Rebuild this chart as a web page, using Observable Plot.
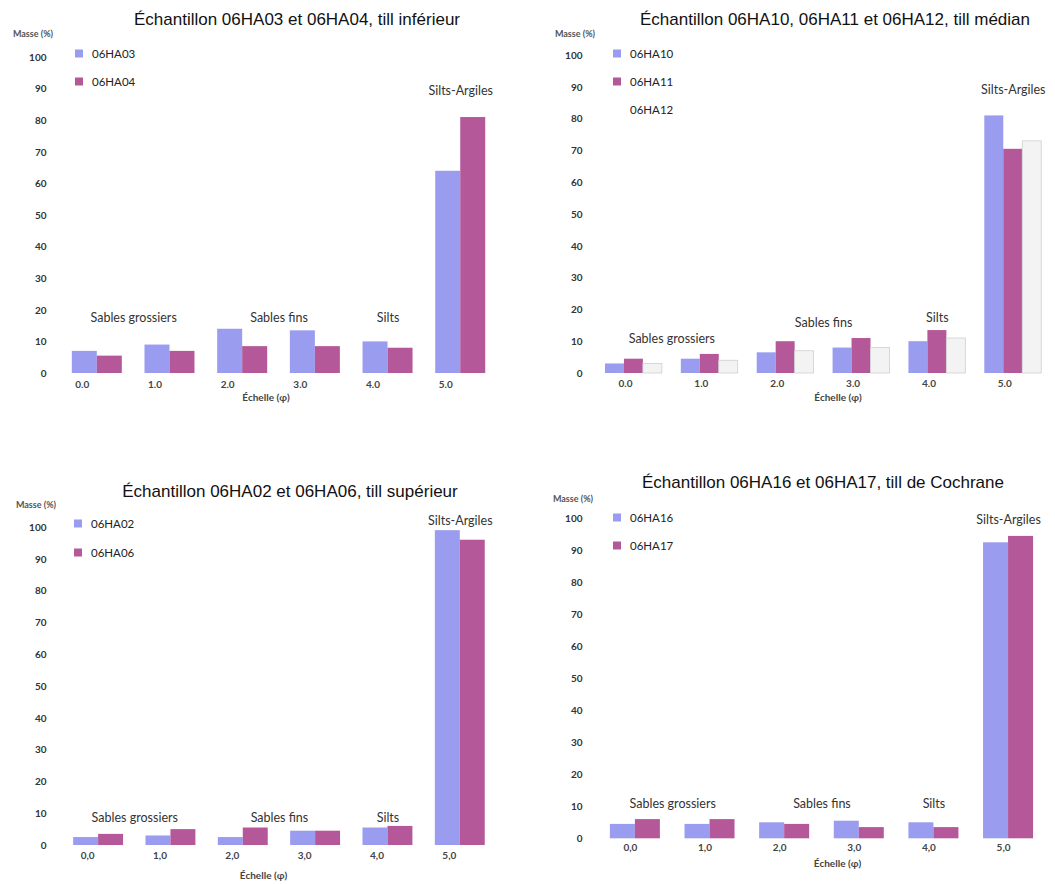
<!DOCTYPE html>
<html>
<head>
<meta charset="utf-8">
<script src="https://cdn.jsdelivr.net/npm/d3@7"></script>
<script src="https://cdn.jsdelivr.net/npm/@observablehq/plot@0.6"></script>
<style>
  body { margin: 0; background: #fff; }
  #page { position: relative; width: 1055px; height: 884px; overflow: hidden; background: #fff; }
  .chart { position: absolute; }
  .chart svg { overflow: visible; }
  .title { position: absolute; transform: translate(-50%, -50%); white-space: nowrap;
           font-family: "Liberation Sans", Arial, sans-serif; font-size: 17px; color: #111; z-index: 2; }
  .masse { position: absolute; transform: translate(-50%, -50%); white-space: nowrap;
           font-family: Lato, sans-serif; font-size: 9px; font-weight: bold; color: #555; z-index: 2; }
  .legend-item { position: absolute; display: flex; align-items: center; transform: translateY(-50%);
                 font-family: Lato, sans-serif; font-size: 11.5px; color: #222; z-index: 2; white-space: nowrap; }
  .legend-item .sw { width: 8px; height: 8px; margin-right: 9px; }
</style>
</head>
<body>
<div id="page"></div>
<script>
// Grain-size classes on the phi scale and their tick labels
const phiClasses = [0, 1, 2, 3, 4, 5];
const ticksPoint = ["0.0", "1.0", "2.0", "3.0", "4.0", "5.0"];
const ticksComma = ["0,0", "1,0", "2,0", "3,0", "4,0", "5,0"];
const massTicks = [0, 10, 20, 30, 40, 50, 60, 70, 80, 90, 100];

// Named size fractions and the phi classes they cover
const fractionNames = ["Sables grossiers", "Sables fins", "Silts", "Silts-Argiles"];
const fractionFrom = [0, 2, 4, 5];
const fractionTo = [1, 3, 4, 5];

const axisLabel = "Échelle (φ)";
const massLabel = "Masse (%)";

// Till inférieur
const titleInf = "Échantillon 06HA03 et 06HA04, till inférieur";
const samplesInf = ["06HA03", "06HA04"];
const masse06HA03 = [7, 9, 14, 13.5, 10, 64];
const masse06HA04 = [5.5, 7, 8.5, 8.5, 8, 81];

// Till médian
const titleMed = "Échantillon 06HA10, 06HA11 et 06HA12, till médian";
const samplesMed = ["06HA10", "06HA11", "06HA12"];
const masse06HA10 = [3, 4.5, 6.5, 8, 10, 81];
const masse06HA11 = [4.5, 6, 10, 11, 13.5, 70.5];
const masse06HA12 = [3, 4, 7, 8, 11, 73];

// Till supérieur
const titleSup = "Échantillon 06HA02 et 06HA06, till supérieur";
const samplesSup = ["06HA02", "06HA06"];
const masse06HA02 = [2.5, 3, 2.5, 4.5, 5.5, 99];
const masse06HA06 = [3.5, 5, 5.5, 4.5, 6, 96];

// Till de Cochrane
const titleCoc = "Échantillon 06HA16 et 06HA17, till de Cochrane";
const samplesCoc = ["06HA16", "06HA17"];
const masse06HA16 = [4.5, 4.5, 5, 5.5, 5, 92.5];
const masse06HA17 = [6, 6, 4.5, 3.5, 3.5, 94.5];

// Series styling (first, second, third sample of a panel)
const seriesFill = ["#9a9cf0", "#b4589a", "#f3f3f3"];
const seriesStroke = [null, null, "#cfcfcf"];
const swatchFill = ["#9a9cf0", "#b4589a", "#ffffff"];

const panels = [
  {
    title: titleInf, samples: samplesInf, values: [masse06HA03, masse06HA04], ticks: ticksPoint,
    svg: {left: 0, top: 30, width: 530, height: 385, mt: 27, mb: 42, ml: 50, mr: 25,
          xDomain: [-0.3, 5.96], bar: 0.344, tickDx: 10, tickDy: 14, echDx: -12, echDy: 27,
          labelY: [17.5, 17.5, 17.5, 89.5]},
    titlePos: [297, 20], massePos: [33, 33], legend: {x: 75, textX: 92, ys: [53, 81]}
  },
  {
    title: titleMed, samples: samplesMed, values: [masse06HA10, masse06HA11, masse06HA12], ticks: ticksPoint,
    svg: {left: 530, top: 30, width: 525, height: 385, mt: 25, mb: 42, ml: 56, mr: 10,
          xDomain: [-0.25, 5.8], bar: 0.25, tickDx: 20, tickDy: 13.5, echDx: 22, echDy: 27,
          labelY: [11, 16, 17.4, 89]},
    titlePos: [835, 20], massePos: [575, 33], legend: {x: 613, textX: 630, ys: [53, 81, 109]}
  },
  {
    title: titleSup, samples: samplesSup, values: [masse06HA02, masse06HA06], ticks: ticksComma,
    svg: {left: 0, top: 500, width: 530, height: 384, mt: 27, mb: 39, ml: 50, mr: 25,
          xDomain: [-0.32, 5.97], bar: 0.345, tickDx: 14, tickDy: 13.3, echDx: -14.5, echDy: 33,
          labelY: [8.8, 8.8, 8.8, 102]},
    titlePos: [290, 492], massePos: [36, 504], legend: {x: 74, textX: 92, ys: [523, 552]}
  },
  {
    title: titleCoc, samples: samplesCoc, values: [masse06HA16, masse06HA17], ticks: ticksComma,
    svg: {left: 530, top: 490, width: 525, height: 394, mt: 28.3, mb: 45.7, ml: 56, mr: 10,
          xDomain: [-0.32, 5.83], bar: 0.335, tickDx: 20, tickDy: 11.7, echDx: 21.5, echDy: 28.4,
          labelY: [11, 11, 11, 99.5]},
    titlePos: [823, 483], massePos: [573, 498], legend: {x: 613, textX: 630, ys: [517, 545]}
  }
];

const page = document.getElementById("page");

function addDiv(cls, text, x, y) {
  const el = document.createElement("div");
  el.className = cls;
  el.textContent = text;
  el.style.left = x + "px";
  el.style.top = y + "px";
  page.appendChild(el);
  return el;
}

function drawPanel(p) {
  const L = p.svg;
  const n = p.samples.length;

  // One row per sample and phi class
  const rows = p.samples.map((sample, i) =>
    p.values[i].map((value, j) => ({sample, index: i, phi: phiClasses[j], value}))
  );

  // Fraction labels sit above the middle of the grouped bars they cover
  const fractionLabels = fractionNames.map((name, k) => ({
    name,
    x: (fractionFrom[k] + fractionTo[k]) / 2 + n * L.bar / 2,
    y: L.labelY[k]
  }));

  const barMarks = rows.map((data, i) =>
    Plot.rect(data, {
      x1: d => d.phi + d.index * L.bar,
      x2: d => d.phi + (d.index + 1) * L.bar,
      y1: 0,
      y2: "value",
      fill: seriesFill[i],
      stroke: seriesStroke[i] || undefined,
      strokeWidth: 0.8
    })
  );

  const chart = Plot.plot({
    width: L.width,
    height: L.height,
    marginTop: L.mt,
    marginBottom: L.mb,
    marginLeft: L.ml,
    marginRight: L.mr,
    style: {background: "transparent", fontFamily: "Lato, sans-serif", fontSize: "10px",
            fontWeight: "bold", color: "#333"},
    x: {domain: L.xDomain, axis: null},
    y: {domain: [0, 100], ticks: massTicks, tickSize: 0, tickPadding: 4, label: null,
        tickFormat: d => String(d)},
    marks: [
      ...barMarks,
      Plot.text(phiClasses, {
        x: d => d, text: (d, i) => p.ticks[i], frameAnchor: "bottom",
        dx: L.tickDx, dy: L.tickDy, fontSize: 10, fontWeight: "bold", fill: "#444"
      }),
      Plot.text([axisLabel], {
        frameAnchor: "bottom", dx: L.echDx, dy: L.echDy,
        fontSize: 10, fontWeight: "bold", fill: "#444"
      }),
      Plot.text(fractionLabels, {
        x: "x", y: "y", text: "name", fontSize: 12.5, fontWeight: "normal", fill: "#333"
      })
    ]
  });

  const wrap = document.createElement("div");
  wrap.className = "chart";
  wrap.style.left = L.left + "px";
  wrap.style.top = L.top + "px";
  wrap.appendChild(chart);
  page.appendChild(wrap);

  addDiv("title", p.title, p.titlePos[0], p.titlePos[1]);
  addDiv("masse", massLabel, p.massePos[0], p.massePos[1]);

  p.samples.forEach((s, i) => {
    const item = document.createElement("div");
    item.className = "legend-item";
    item.style.left = p.legend.x + "px";
    item.style.top = p.legend.ys[i] + "px";
    const sw = document.createElement("span");
    sw.className = "sw";
    sw.style.background = swatchFill[i];
    const tx = document.createElement("span");
    tx.textContent = s;
    item.appendChild(sw);
    item.appendChild(tx);
    page.appendChild(item);
  });
}

panels.forEach(drawPanel);
</script>
</body>
</html>
